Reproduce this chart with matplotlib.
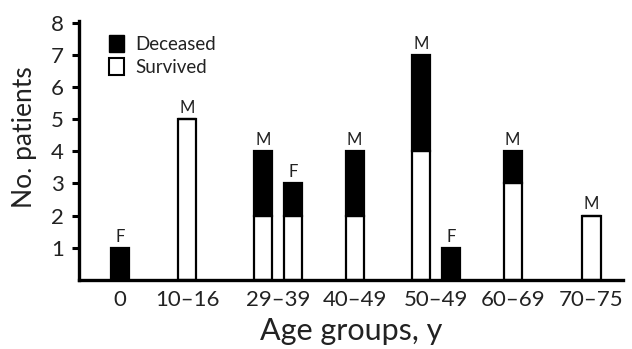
import matplotlib.pyplot as plt
from matplotlib.patches import Patch

plt.rcParams['font.family'] = ['Lato', 'DejaVu Sans']

# Datos
age_groups = ['0', '10–16', '29–39', '40–49', '50–49', '60–69', '70–75']
bar_group = [0, 1, 2, 2, 3, 4, 4, 5, 6]
bar_sex = ['F', 'M', 'M', 'F', 'M', 'M', 'F', 'M', 'M']
survived = [0, 5, 2, 2, 2, 4, 0, 3, 2]
deceased = [1, 0, 2, 1, 2, 3, 1, 1, 0]

# Posiciones de los grupos en el eje x (diseño)
group_x = [0, 0.85, 2.0, 2.97, 4.0, 4.97, 5.97]
pair_offset = 0.19
bar_width = 0.23

fig = plt.figure(figsize=(6.32, 3.49), dpi=100)
ax = fig.add_axes([0.125, 0.198, 0.861, 0.742])

# Calcular la posición de cada barra
xs = []
for i, g in enumerate(bar_group):
    n = bar_group.count(g)
    if n == 1:
        xs.append(group_x[g])
    else:
        first = bar_group.index(g)
        xs.append(group_x[g] + (pair_offset if i > first else -pair_offset))

ax.bar(xs, survived, width=bar_width, color='white', edgecolor='black', linewidth=1.6)
ax.bar(xs, deceased, width=bar_width, bottom=survived, color='black', edgecolor='black', linewidth=1.6)

for x, s, d, sex in zip(xs, survived, deceased, bar_sex):
    ax.text(x, s + d + 0.1, sex, ha='center', va='bottom', fontsize=12, color='#222222')

ax.set_xlim(-0.52, 6.37)
ax.set_ylim(0, 8.05)
ax.set_yticks(range(1, 9))
ax.set_xticks(group_x)
ax.set_xticklabels(age_groups)
ax.tick_params(axis='x', length=0, labelsize=16, pad=7, labelcolor='#222222')
ax.tick_params(axis='y', length=5, width=2.2, labelsize=16, pad=6, labelcolor='#222222')

for side in ['top', 'right']:
    ax.spines[side].set_visible(False)
for side in ['left', 'bottom']:
    ax.spines[side].set_linewidth(2.4)

ax.set_xlabel('Age groups, y', fontsize=22, labelpad=5, color='#222222')
ax.set_ylabel('No. patients', fontsize=19, color='#222222')
ax.yaxis.set_label_coords(-0.078, 0.55)

handles = [Patch(facecolor='black', edgecolor='black', label='Deceased'),
           Patch(facecolor='white', edgecolor='black', linewidth=1.5, label='Survived')]
ax.legend(handles=handles, loc='upper left', bbox_to_anchor=(0.025, 1.01), frameon=False,
          fontsize=13.5, handlelength=0.8, handleheight=1.0, handletextpad=0.6, labelspacing=0.25,
          labelcolor='#222222')

plt.savefig('out.png', dpi=100)
